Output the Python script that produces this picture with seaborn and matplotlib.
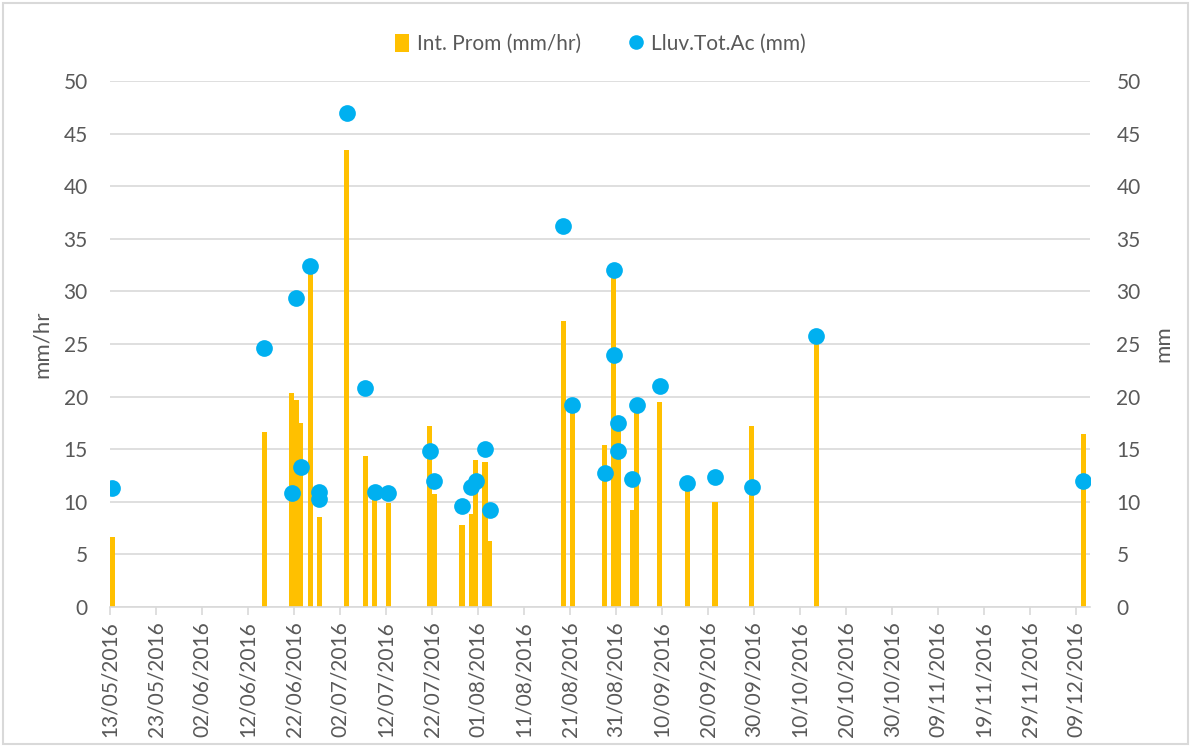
import matplotlib
matplotlib.use("Agg")
import matplotlib.pyplot as plt
import matplotlib.dates as mdates
from matplotlib.patches import Patch, Rectangle
from matplotlib.lines import Line2D
import seaborn as sns
import pandas as pd

# Registro de eventos de lluvia (fecha, intensidad promedio, lluvia total acumulada)
fechas = ["13/05/2016", "15/06/2016", "21/06/2016", "22/06/2016", "23/06/2016",
          "25/06/2016", "27/06/2016", "27/06/2016", "03/07/2016", "07/07/2016",
          "09/07/2016", "12/07/2016", "21/07/2016", "22/07/2016", "28/07/2016",
          "30/07/2016", "31/07/2016", "02/08/2016", "03/08/2016", "19/08/2016",
          "21/08/2016", "28/08/2016", "30/08/2016", "30/08/2016", "31/08/2016",
          "31/08/2016", "03/09/2016", "04/09/2016", "09/09/2016", "15/09/2016",
          "21/09/2016", "29/09/2016", "13/10/2016", "10/12/2016"]
int_prom = [6.7, 16.6, 20.3, 19.7, 17.5, 32.0, 8.6, 8.2, 43.4, 14.4,
            10.6, 9.9, 17.2, 10.7, 7.8, 8.8, 14.0, 13.8, 6.3, 27.2,
            18.8, 15.4, 32.0, 23.8, 17.3, 10.5, 9.2, 18.4, 19.5, 11.0,
            10.0, 17.2, 25.3, 16.4]
lluv_tot = [11.35, 24.6, 10.8, 29.4, 13.3, 32.4, 10.9, 10.3, 47.0, 20.8,
            10.9, 10.8, 14.8, 12.0, 9.6, 11.4, 12.0, 15.0, 9.2, 36.2,
            19.2, 12.7, 32.0, 24.0, 17.5, 14.8, 12.2, 19.2, 21.0, 11.8,
            12.4, 11.4, 25.8, 12.0]

serie_barras = "Int. Prom (mm/hr)"
serie_puntos = "Lluv.Tot.Ac (mm)"
eje_izq = "mm/hr"
eje_der = "mm"
inicio_eje, fin_eje = "13/05/2016", "12/12/2016"
paso_ticks = "10D"

COL_BARRA = "#FFC000"
COL_PUNTO = "#00B0F0"
COL_TEXTO = "#595959"
COL_REJILLA = "#D9D9D9"

sns.set_theme(style="white")
plt.rcParams["font.family"] = ["Lato", "DejaVu Sans"]

df = pd.DataFrame({
    "fecha": pd.to_datetime(fechas, dayfirst=True),
    "int": int_prom,
    "tot": lluv_tot,
})
# cada valor diario se sitúa a mediodía para que la barra cubra su día
df["x"] = mdates.date2num(df["fecha"] + pd.Timedelta(hours=12))

fig = plt.figure(figsize=(11.91, 7.47), dpi=100)
W, H = 1191, 747
ax = fig.add_axes([110 / W, 1 - 607 / H, (1090 - 110) / W, (607 - 81) / H])

sns.barplot(data=df, x="x", y="int", native_scale=True, estimator="max",
            errorbar=None, color=COL_BARRA, saturation=1, width=1.1,
            linewidth=0, ax=ax)

ax2 = ax.twinx()
sns.scatterplot(data=df, x="x", y="tot", ax=ax2, color=COL_PUNTO, s=145,
                linewidth=0, zorder=3, legend=False)

x0 = mdates.date2num(pd.to_datetime(inicio_eje, dayfirst=True))
x1 = mdates.date2num(pd.to_datetime(fin_eje, dayfirst=True))
ticks = pd.date_range(pd.to_datetime(inicio_eje, dayfirst=True),
                      pd.to_datetime(fin_eje, dayfirst=True), freq=paso_ticks)
for a in (ax, ax2):
    a.set_xlim(x0, x1)
    a.set_ylim(0, 50)
    a.set_yticks(range(0, 51, 5))
    for s in a.spines.values():
        s.set_visible(False)

ax.set_xticks(mdates.date2num(ticks))
ax.set_xticklabels([t.strftime("%d/%m/%Y") for t in ticks], rotation=90)
ax.spines["bottom"].set_visible(True)
ax.spines["bottom"].set_color(COL_REJILLA)
ax.spines["bottom"].set_linewidth(1.2)
ax.tick_params(axis="x", bottom=True, length=6, width=1.2, color=COL_REJILLA,
               pad=4, labelsize=15, labelcolor=COL_TEXTO)
ax.tick_params(axis="y", left=False, length=0, pad=16, labelsize=15,
               labelcolor=COL_TEXTO)
ax2.tick_params(axis="y", right=False, length=0, pad=19, labelsize=15,
                labelcolor=COL_TEXTO)

ax.set_axisbelow(True)
ax.yaxis.grid(True, color=COL_REJILLA, linewidth=1.2)
ax.xaxis.grid(False)
ax2.grid(False)

ax.set_xlabel("")
ax.set_ylabel(eje_izq, fontsize=16, color=COL_TEXTO)
ax.yaxis.set_label_coords((42 - 110) / 980, 0.5)
ax.yaxis.label.set_verticalalignment("center")
ax2.set_ylabel(eje_der, fontsize=16, color=COL_TEXTO, rotation=90)
ax2.yaxis.set_label_coords((1163 - 110) / 980, 0.5)
ax2.yaxis.label.set_verticalalignment("center")

handles = [
    Patch(facecolor=COL_BARRA, edgecolor="none", label=serie_barras),
    Line2D([], [], linestyle="none", marker="o", markersize=10.5,
           markerfacecolor=COL_PUNTO, markeredgewidth=0, label=serie_puntos),
]
leg = fig.legend(handles=handles, loc="center", ncol=2, frameon=False,
                 bbox_to_anchor=(600 / W, 1 - 44 / H), fontsize=15,
                 handlelength=0.7, handleheight=1.0, handletextpad=0.35,
                 columnspacing=2.3)
for t in leg.get_texts():
    t.set_color(COL_TEXTO)

fig.patches.append(Rectangle((3 / W, 3 / H), 1 - 6 / W, 1 - 6 / H,
                             transform=fig.transFigure, fill=False,
                             edgecolor=COL_REJILLA, linewidth=1.5))

fig.savefig("out.png", dpi=100, facecolor="white")
